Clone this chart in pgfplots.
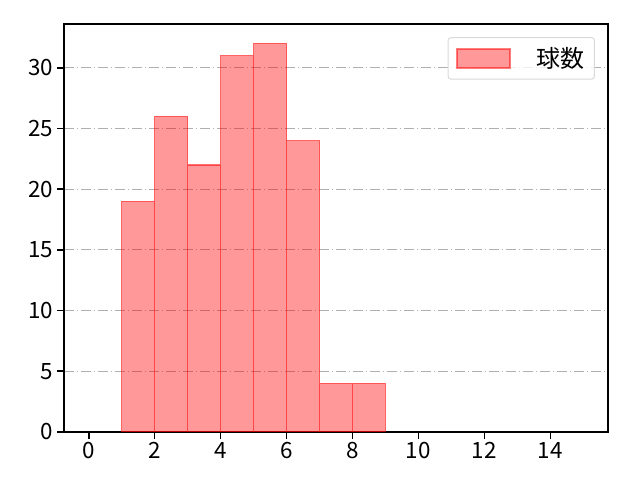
\documentclass[border=0pt]{standalone}
\usepackage{pgfplots}
\pgfplotsset{compat=1.18}
\usepackage{fontspec}
\setmainfont{Noto Sans CJK JP}
\definecolor{gridgray}{RGB}{176,176,176}
\begin{document}
\begin{tikzpicture}
\path[use as bounding box] (0,0) rectangle (640bp,480bp);
\begin{axis}[
    at={(64bp,48bp)},
    anchor=south west,
    scale only axis,
    width=544bp, height=408bp,
    xmin=-0.75, xmax=15.75,
    ymin=0, ymax=33.6,
    xtick={0,2,...,14},
    ytick={0,5,...,30},
    ymajorgrids=true,
    grid style={gridgray, dash pattern=on 10.2bp off 2.6bp on 1.6bp off 2.6bp, line width=1.2bp},
    axis line style={line width=1.6bp},
    tick style={black, line width=1.6bp},
    tick align=outside,
    major tick length=7bp,
    xtick pos=bottom, ytick pos=left,
    tick label style={font=\fontsize{22.5}{26}\selectfont, inner sep=3.5bp},
    /pgf/number format/assume math mode=true,
    legend style={at={(0.976,0.968)}, anchor=north east, draw=black!15, line width=1bp,
        rounded corners=3pt, fill=white, fill opacity=0.8, text opacity=1,
        font=\fontsize{24}{28}\selectfont, inner xsep=8bp, inner ysep=8bp,
        nodes={inner sep=2bp}},
    legend image code/.code={\draw[#1, sharp corners, fill opacity=0.4, draw opacity=0.5] (0bp,-9.5bp) rectangle (53bp,9.5bp);},
    legend cell align=left,
]
\addplot[ybar interval, fill=red, fill opacity=0.4, draw=red, draw opacity=0.55, line width=1.5bp]
coordinates {(1,19)(2,26)(3,22)(4,31)(5,32)(6,24)(7,4)(8,4)(9,4)};
\addlegendentry{\hspace{24bp}球数}
\end{axis}
\end{tikzpicture}
\end{document}
